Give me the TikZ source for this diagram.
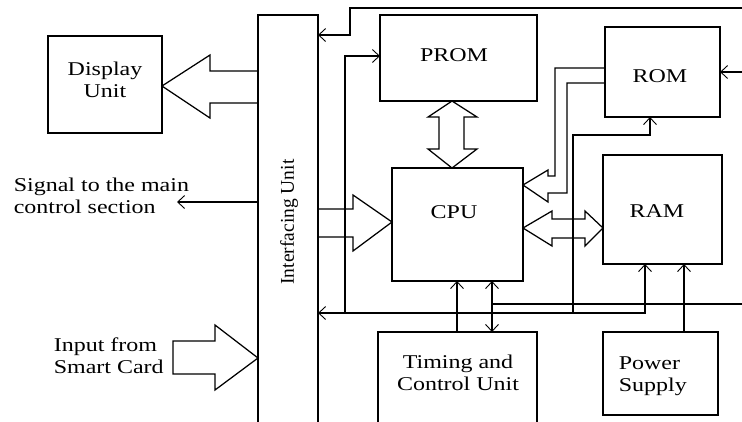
\documentclass[tikz,border=0pt]{standalone}
\usepackage{fontspec}
\setmainfont{Liberation Serif}[FakeStretch=1.23]
\newfontfamily\rotfont{Liberation Serif}
\usetikzlibrary{arrows.meta}
\begin{document}
\begin{tikzpicture}[x=1pt,y=-1pt,line width=1.6pt,
  box/.style={draw, rectangle, inner sep=0pt, outer sep=0pt, anchor=north west},
  txt/.style={font=\fontsize{19.5}{22}\selectfont, align=center, inner sep=0pt},
  hol/.style={line width=1.25pt, line join=miter},
  ar/.style={-{Straight Barb[length=7pt,width=13pt,line width=0.9pt]}},
  arr/.style={{Straight Barb[length=7pt,width=13pt,line width=0.9pt]}-{Straight Barb[length=7pt,width=13pt,line width=0.9pt]}}]
\useasboundingbox (0,0) rectangle (742,421);
\fill[white] (0,0) rectangle (742,421);
\clip (0,0) rectangle (742,421);
% boxes
\node[box, minimum width=114pt, minimum height=97pt] (disp) at (48,36) {};
\node[box, minimum width=60pt, minimum height=430pt] (iface) at (258,15) {};
\node[box, minimum width=157pt, minimum height=86pt] (prom) at (380,15) {};
\node[box, minimum width=115pt, minimum height=90pt] (rom) at (605,27) {};
\node[box, minimum width=131pt, minimum height=113pt] (cpu) at (392,168) {};
\node[box, minimum width=119pt, minimum height=109pt] (ram) at (603,155) {};
\node[box, minimum width=159pt, minimum height=110pt] (tcu) at (378,332) {};
\node[box, minimum width=115pt, minimum height=83pt] (psu) at (603,332) {};
% texts
\node[txt] (tdisp) at (105,80) {Display\\Unit};
\node[txt] (tprom) at (454,55) {PROM};
\node[txt] (trom) at (660,76) {ROM};
\node[txt] (tcpu) at (454,212) {CPU};
\node[txt] (tram) at (657,211) {RAM};
\node[txt] (ttcu) at (458,373) {Timing and\\Control Unit};
\node[txt, anchor=west, align=left] (tpsu) at (618,376) {Power\\Supply};
\node[txt, anchor=west, align=left] (tsig) at (13,196) {Signal to the main\\control section};
\node[txt, anchor=west, align=left] (tin) at (53,356) {Input from\\Smart Card};
\node[inner sep=0pt, rotate=90, font=\rotfont\fontsize{19.5}{22}\selectfont] (tif) at (289,222) {Interfacing Unit};
% free ends
\coordinate (sig) at (177,202);
\coordinate (topR) at (742,8);
\coordinate (romR) at (742,72);
\coordinate (busR) at (742,304);
% hollow arrows
\draw[hol] (iface.west |- 0,71) -- (210,71) -- (210,55) -- (disp.east |- 0,86) -- (210,118) -- (210,103) -- (iface.west |- 0,103);
\draw[hol] (173,341) -- (215,341) -- (215,325) -- (iface.west |- 0,358) -- (215,390) -- (215,374) -- (173,374) -- cycle;
\draw[hol] (iface.east |- 0,209) -- (353,209) -- (353,195) -- (cpu.west |- 0,222) -- (353,251) -- (353,237) -- (iface.east |- 0,237);
\draw[hol] (prom.south -| 452,0) -- (477,117) -- (464,117) -- (464,149) -- (477,149) -- (cpu.north -| 452,0) -- (428,149) -- (439,149) -- (439,117) -- (428,117) -- cycle;
\draw[hol] (cpu.east |- 0,228) -- (552,211) -- (552,219) -- (585,219) -- (585,211) -- (ram.west |- 0,228) -- (585,246) -- (585,238) -- (552,238) -- (552,246) -- cycle;
\draw[hol] (rom.west |- 0,68) -- (555,68) -- (555,176) -- (548,176) -- (548,170) -- (cpu.east |- 0,185) -- (548,202) -- (548,193) -- (567,193) -- (567,83) -- (rom.west |- 0,83);
% plain connectors
\draw[ar] (iface.west |- sig) -- (sig);
\draw[ar] (topR) -- (350,8) -- (350,35) -- (iface.east |- 0,35);
\draw[ar] (345,313) -- (345,56) -- (prom.west |- 0,56);
\draw[arr] (ram.south -| 645,0) -- (645,313) -- (iface.east |- 0,313);
\draw[ar] (573,313) -- (573,135) -- (650,135) -- (rom.south -| 650,0);
\draw[ar] (romR) -- (rom.east |- romR);
\draw[arr] (cpu.south -| 492,0) -- (tcu.north -| 492,0);
\draw (492,304) -- (busR);
\draw[ar] (tcu.north -| 457,0) -- (cpu.south -| 457,0);
\draw[ar] (psu.north -| 684,0) -- (ram.south -| 684,0);
\end{tikzpicture}
\end{document}
